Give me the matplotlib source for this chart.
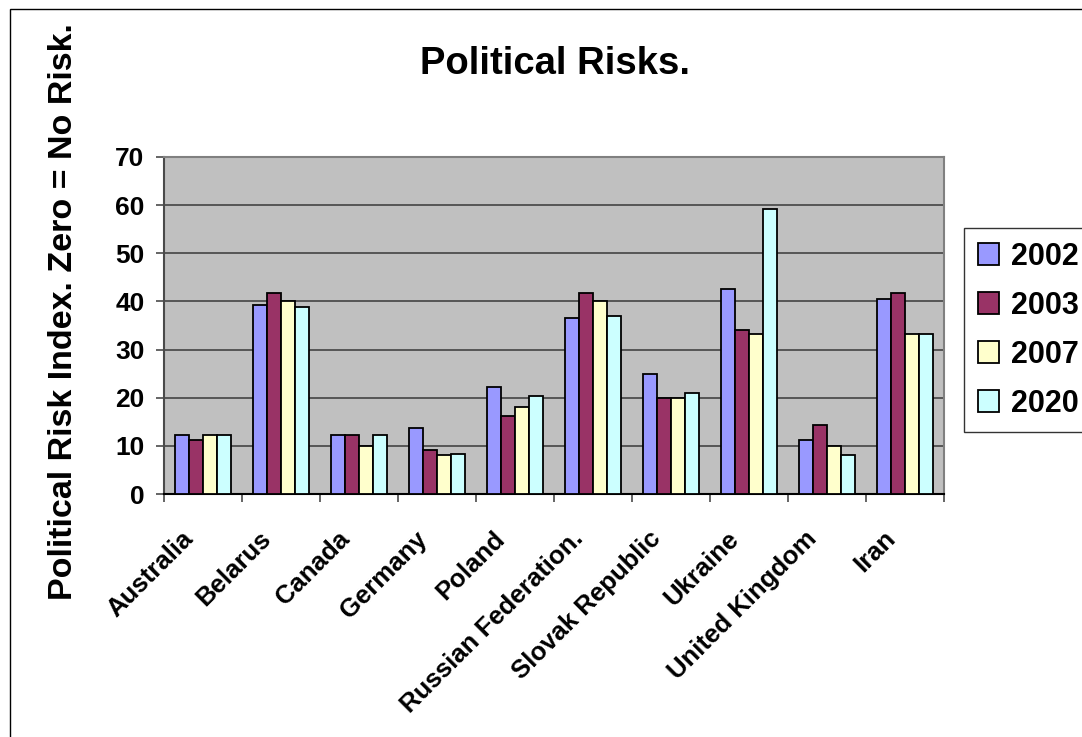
import numpy as np
import matplotlib
matplotlib.use("Agg")
import matplotlib.pyplot as plt
from matplotlib.patches import Rectangle
from matplotlib.transforms import ScaledTranslation

plt.rcParams['font.family'] = ['Liberation Sans', 'DejaVu Sans']
plt.rcParams['font.weight'] = 'bold'

countries = ["Australia", "Belarus", "Canada", "Germany", "Poland",
             "Russian Federation.", "Slovak Republic", "Ukraine",
             "United Kingdom", "Iran"]
years = ["2002", "2003", "2007", "2020"]

# risk index per country for each year
risk_2002 = [12.2, 39.3, 12.2, 13.7, 22.2, 36.5, 25.0, 42.6, 11.2, 40.5]
risk_2003 = [11.3, 41.7, 12.2, 9.1, 16.3, 41.7, 20.0, 34.1, 14.3, 41.7]
risk_2007 = [12.2, 40.0, 10.0, 8.0, 18.0, 40.0, 20.0, 33.3, 10.0, 33.3]
risk_2020 = [12.2, 38.9, 12.2, 8.4, 20.4, 36.9, 20.9, 59.2, 8.0, 33.3]

series = [risk_2002, risk_2003, risk_2007, risk_2020]
colors = ["#9999FF", "#993366", "#FFFFCC", "#CCFFFF"]

W, H = 1082, 737
fig = plt.figure(figsize=(W / 100, H / 100), dpi=100)

# outer chart border
fig.patches.append(Rectangle((10 / W, -0.1), 1.2, 1 - 9 / H + 0.1,
                             transform=fig.transFigure, fill=False,
                             edgecolor="black", linewidth=1.0))

ax = fig.add_axes([164 / W, 1 - 494 / H, 780 / W, 337 / H])
ax.set_facecolor("#C0C0C0")

x = np.arange(len(countries))
width = 0.18
for k, (vals, col, yr) in enumerate(zip(series, colors, years)):
    ax.bar(x + (k - 1.5) * width, vals, width, color=col, edgecolor="black",
           linewidth=1.3, label=yr, zorder=3)

ax.set_xlim(-0.5, len(countries) - 0.5)
ax.set_ylim(0, 70)
ax.set_yticks(range(0, 71, 10))
ax.yaxis.grid(True, color="#444444", linewidth=1.2, zorder=1)
ax.set_axisbelow(True)

ax.set_xticks(x)
ax.set_xticklabels(countries, rotation=45, ha="right", va="top",
                   rotation_mode="anchor", fontsize=18.5, fontweight="bold")
ax.tick_params(axis="x", which="major", length=0, pad=22)
shift = ScaledTranslation(-22 / 100, -2 / 100, fig.dpi_scale_trans)
for lab in ax.get_xticklabels():
    lab.set_transform(lab.get_transform() + shift)
ax.set_xticks(np.arange(-0.5, len(countries)), minor=True)
ax.tick_params(axis="x", which="minor", length=6, color="#4a4a4a", width=1.2)
ax.tick_params(axis="y", length=6, color="#4a4a4a", width=1.2, pad=8,
               labelsize=19)
for lab in ax.get_yticklabels():
    lab.set_fontweight("bold")

for side in ["top", "right"]:
    ax.spines[side].set_color("#808080")
    ax.spines[side].set_linewidth(1.5)
ax.spines["left"].set_color("#4a4a4a")
ax.spines["left"].set_linewidth(1.5)
ax.spines["bottom"].set_color("black")
ax.spines["bottom"].set_linewidth(1.5)

fig.text(555 / W, 1 - 64 / H, "Political Risks.", ha="center", va="center",
         fontsize=27.5, fontweight="bold")
fig.text(64 / W, 1 - 312 / H, "Political Risk Index. Zero = No Risk.",
         rotation=90, ha="center", va="center", fontsize=24.5,
         fontweight="bold")

leg = fig.legend(loc="upper left", bbox_to_anchor=(964 / W, 1 - 228 / H),
                 fontsize=22, frameon=True, fancybox=False,
                 edgecolor="black", handlelength=0.7, handleheight=0.7,
                 handletextpad=0.4, labelspacing=0.62, borderpad=0.45,
                 borderaxespad=0)
leg.get_frame().set_linewidth(1.0)
for t in leg.get_texts():
    t.set_fontweight("bold")

fig.savefig("out.png", dpi=100)
